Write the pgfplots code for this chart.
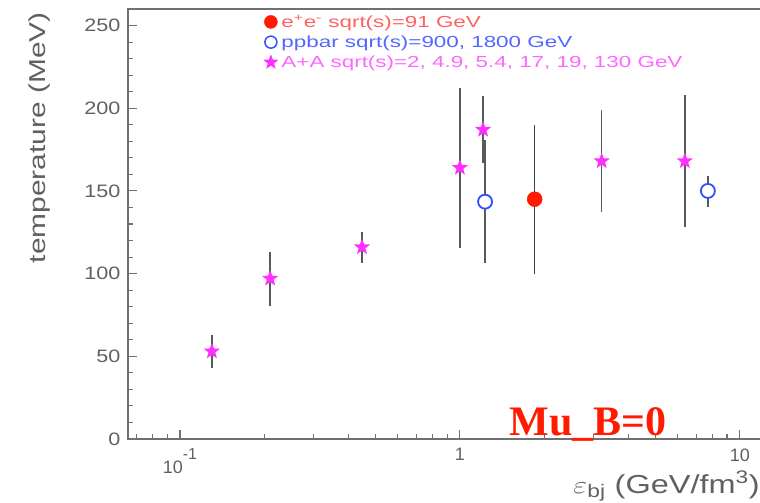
\documentclass[border=0pt]{standalone}
\usepackage{fontspec}
\setmainfont{Liberation Sans}
\newfontfamily\serifb{Liberation Serif}
\usepackage{pgfplots}
\usepackage{pgfplotstable}
\pgfplotsset{compat=1.18}
\definecolor{txtgray}{HTML}{606060}
\definecolor{axgray}{HTML}{707070}
\definecolor{mymag}{HTML}{FF30FF}
\definecolor{myred}{HTML}{FF1A00}
\definecolor{myblue}{HTML}{3050FF}
\definecolor{legred}{HTML}{FF6060}
\definecolor{legblue}{HTML}{5565FF}
\definecolor{legmag}{HTML}{FF66FF}

\pgfdeclareplotmark{fstar}{%
  \pgfpathmoveto{\pgfpointpolar{90}{\pgfplotmarksize}}%
  \pgfpathlineto{\pgfpointpolar{126}{0.42\pgfplotmarksize}}%
  \pgfpathlineto{\pgfpointpolar{162}{\pgfplotmarksize}}%
  \pgfpathlineto{\pgfpointpolar{198}{0.42\pgfplotmarksize}}%
  \pgfpathlineto{\pgfpointpolar{234}{\pgfplotmarksize}}%
  \pgfpathlineto{\pgfpointpolar{270}{0.42\pgfplotmarksize}}%
  \pgfpathlineto{\pgfpointpolar{306}{\pgfplotmarksize}}%
  \pgfpathlineto{\pgfpointpolar{342}{0.42\pgfplotmarksize}}%
  \pgfpathlineto{\pgfpointpolar{18}{\pgfplotmarksize}}%
  \pgfpathlineto{\pgfpointpolar{54}{0.42\pgfplotmarksize}}%
  \pgfpathclose
  \pgfusepathqfill
}

\pgfplotstableread{
x y ep em
0.130 53 10 10
0.21 97 16 16.5
0.447 116 9 9.5
1.0 164 48.5 48.5
1.21 187 20.5 20
3.21 168 31 31
6.36 168 40 40
}\aadata

\pgfplotstableread{
x y ep em
1.85 145 45 45
}\eedata

\pgfplotstableread{
x y ep em
1.23 143.5 37 37
7.69 150 9 10
}\ppdata

\begin{document}
\begin{tikzpicture}
\useasboundingbox (-128pt,-64pt) rectangle (632pt,439pt);
\begin{axis}[
  at={(0pt,0pt)}, anchor=south west,
  scale only axis, width=635pt, height=430pt, clip=false,
  xmode=log, xmin=0.0652, xmax=12.1, ymin=0, ymax=260,
  axis line style={axgray, line width=1.6pt},
  tick style={axgray, line width=1.1pt},
  major tick length=9pt, minor tick length=5pt,
  tick align=inside, xtick pos=bottom, ytick pos=left,
  ytick={0,50,100,150,200,250}, minor y tick num=4,
  log basis x=10,
  xticklabel={\ifdim\tick pt<-0.5pt 10\raisebox{0.75em}{\fontsize{16}{16}\selectfont -1}\else\ifdim\tick pt<0.5pt 1\else 10\fi\fi},
  yticklabel style={font=\fontsize{18}{18}\selectfont, text=txtgray, xshift=-4pt},
  xticklabel style={font=\fontsize{18}{18}\selectfont, text=txtgray, yshift=-6pt},
  yticklabel={\scalebox{1.2}[1]{\pgfmathprintnumber{\tick}}},
  /pgf/number format/assume math mode=true,
  legend style={at={(rel axis cs:0.208,0.994)}, anchor=north west, draw=none, fill=none,
     nodes={inner sep=1pt}, row sep=4.6pt, column sep=2pt,
     font=\fontsize{16}{16}\selectfont},
  legend cell align=left,
  legend image code/.code={\draw[#1] plot coordinates {(4pt,0pt)};},
]
\addlegendimage{only marks, mark=*, mark size=6.5pt, myred}
\addlegendentry{\scalebox{1.4}[1]{\textcolor{legred}{e\textsuperscript{+}e\textsuperscript{-} sqrt(s)=91 GeV}}}
\addlegendimage{only marks, mark=o, mark size=6pt, myblue, line width=1.5pt}
\addlegendentry{\scalebox{1.4}[1]{\textcolor{legblue}{ppbar sqrt(s)=900, 1800 GeV}}}
\addlegendimage{only marks, mark=fstar, mark size=8pt, mymag}
\addlegendentry{\scalebox{1.4}[1]{\textcolor{legmag}{A+A sqrt(s)=2, 4.9, 5.4, 17, 19, 130 GeV}}}

\addplot[forget plot, only marks, mark=fstar, mark size=8.5pt, mymag,
  error bars/.cd, y dir=both, y explicit, error mark=none,
  error bar style={line width=1.6pt, black!65, solid}]
  table[x=x, y=y, y error plus=ep, y error minus=em] {\aadata};
\addplot[forget plot, only marks, mark=*, mark size=7.5pt, myred,
  error bars/.cd, y dir=both, y explicit, error mark=none,
  error bar style={line width=1.6pt, black!75, solid}]
  table[x=x, y=y, y error plus=ep, y error minus=em] {\eedata};
\addplot[forget plot, only marks, mark=*, mark size=7pt, draw=myblue, fill=white, line width=1.8pt,
  error bars/.cd, y dir=both, y explicit, error mark=none,
  error bar style={line width=1.6pt, black!65, solid}]
  table[x=x, y=y, y error plus=ep, y error minus=em] {\ppdata};

\node[anchor=base, font=\serifb\bfseries\fontsize{42}{42}\selectfont, text=myred]
  at (rel axis cs:0.7245,0.0093) {Mu\_B=0};
\node[rotate=90, anchor=east, font=\fontsize{23}{23}\selectfont, text=txtgray, inner sep=0pt]
  at (rel axis cs:-0.1386,0.993) {\scalebox{1.3}[1]{temperature (MeV)}};
\node[anchor=base east, font=\fontsize{26}{26}\selectfont, text=txtgray, inner sep=0pt]
  at (rel axis cs:0.9953,-0.1256) {\scalebox{1.25}[1]{$\varepsilon_{\mathrm{bj}}$ (GeV/fm\textsuperscript{3})}};
\end{axis}
\end{tikzpicture}
\end{document}
